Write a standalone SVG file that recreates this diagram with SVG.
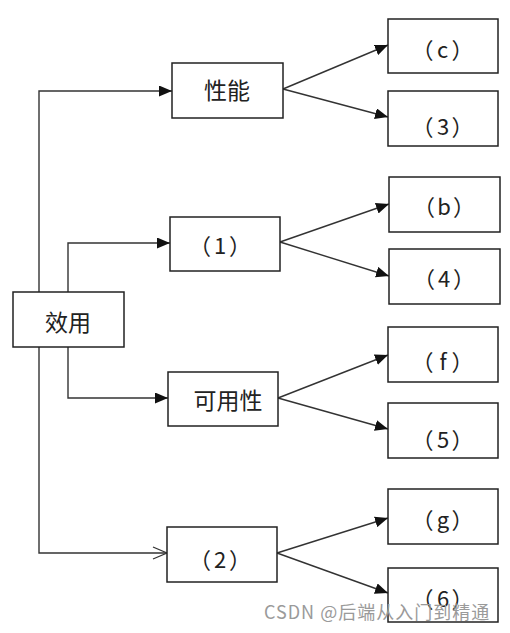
<svg xmlns="http://www.w3.org/2000/svg" width="510" height="633" viewBox="0 0 510 633">
<style>
.box{fill:#fff;stroke:#222;stroke-width:1.5}
.t{font-family:"Noto Sans CJK SC","Noto Sans",sans-serif;fill:#222;text-anchor:middle;dominant-baseline:central}
.big{font-size:23px}
.lb{font-size:22px}
.c{fill:none;stroke:#333;stroke-width:1.4}
.wm{font-family:"Noto Sans CJK SC","Noto Sans",sans-serif;font-size:18px;letter-spacing:1px;fill:#9a9a9a}
</style>
<defs>
<marker id="ah" markerUnits="userSpaceOnUse" markerWidth="13" markerHeight="11" refX="13" refY="5.5" orient="auto">
<path d="M0,0 L13,5.5 L0,11 z" fill="#111"/>
</marker>
<marker id="ao" markerUnits="userSpaceOnUse" markerWidth="16" markerHeight="14" refX="15" refY="7" orient="auto">
<path d="M1,1 L15,7 L1,13" fill="none" stroke="#333" stroke-width="1.3"/>
</marker>
</defs>
<g id="connectors">
<path class="c" d="M39,292 V91 H172" marker-end="url(#ah)"/>
<path class="c" d="M68,292 V243 H170" marker-end="url(#ah)"/>
<path class="c" d="M68,347 V398 H168" marker-end="url(#ah)"/>
<path class="c" d="M39,347 V553 H167" marker-end="url(#ao)"/>
<path class="c" d="M283,89 L388,45" marker-end="url(#ah)"/>
<path class="c" d="M283,89 L388,117" marker-end="url(#ah)"/>
<path class="c" d="M280,242 L389,204" marker-end="url(#ah)"/>
<path class="c" d="M280,242 L389,276" marker-end="url(#ah)"/>
<path class="c" d="M278,398 L388,355" marker-end="url(#ah)"/>
<path class="c" d="M278,398 L388,429" marker-end="url(#ah)"/>
<path class="c" d="M277,553 L388,518" marker-end="url(#ah)"/>
<path class="c" d="M277,553 L388,593" marker-end="url(#ah)"/>
</g>
<g id="n-xiaoyong"><rect class="box" x="13" y="292" width="111" height="55"/><text class="t big" x="68" y="321">效用</text></g>
<g id="n-xingneng"><rect class="box" x="172" y="63" width="111" height="55"/><text class="t big" x="227" y="89">性能</text></g>
<g id="n-1"><rect class="box" x="170" y="217" width="110" height="54"/><text class="t lb" y="244"><tspan x="200">（</tspan><tspan x="220">1</tspan><tspan x="240">）</tspan></text></g>
<g id="n-keyongxing"><rect class="box" x="168" y="372" width="110" height="54"/><text class="t big" x="228" y="399">可用性</text></g>
<g id="n-2"><rect class="box" x="167" y="527" width="110" height="55"/><text class="t lb" y="558"><tspan x="200">（</tspan><tspan x="220">2</tspan><tspan x="240">）</tspan></text></g>
<g id="n-c"><rect class="box" x="388" y="19" width="110" height="54"/><text class="t lb" y="47.5"><tspan x="422.5">（</tspan><tspan x="442.5">c</tspan><tspan x="462.5">）</tspan></text></g>
<g id="n-3"><rect class="box" x="388" y="91" width="110" height="55"/><text class="t lb" y="125"><tspan x="422.5">（</tspan><tspan x="443">3</tspan><tspan x="462.5">）</tspan></text></g>
<g id="n-b"><rect class="box" x="389" y="177" width="111" height="55"/><text class="t lb" y="205"><tspan x="424">（</tspan><tspan x="444">b</tspan><tspan x="464">）</tspan></text></g>
<g id="n-4"><rect class="box" x="389" y="249" width="111" height="55"/><text class="t lb" y="277"><tspan x="424">（</tspan><tspan x="444">4</tspan><tspan x="464">）</tspan></text></g>
<g id="n-f"><rect class="box" x="388" y="327" width="110" height="55"/><text class="t lb" y="360"><tspan x="422.5">（</tspan><tspan x="443">f</tspan><tspan x="462.5">）</tspan></text></g>
<g id="n-5"><rect class="box" x="388" y="403" width="110" height="55"/><text class="t lb" y="438"><tspan x="422.5">（</tspan><tspan x="443">5</tspan><tspan x="462.5">）</tspan></text></g>
<g id="n-g"><rect class="box" x="388" y="489" width="110" height="55"/><text class="t lb" y="518"><tspan x="422.5">（</tspan><tspan x="443">g</tspan><tspan x="462.5">）</tspan></text></g>
<g id="n-6"><rect class="box" x="388" y="568" width="110" height="54"/><text class="t lb" y="597"><tspan x="422.5">（</tspan><tspan x="443">6</tspan><tspan x="462.5">）</tspan></text></g>
<text class="wm" x="264" y="619">CSDN @后端从入门到精通</text>
</svg>
